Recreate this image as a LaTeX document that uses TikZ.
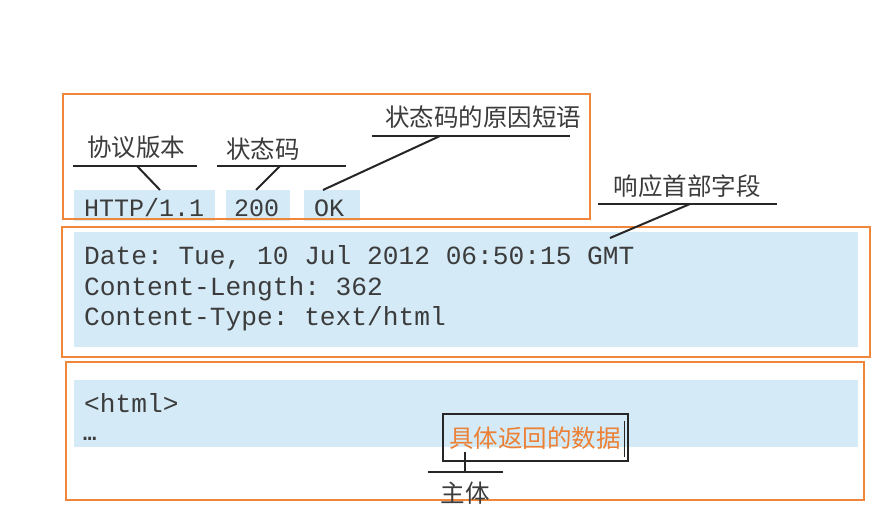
\documentclass[tikz,border=0pt]{standalone}
\usepackage{fontspec}
\setmonofont{Liberation Mono}
\newfontfamily\cjk{Noto Sans CJK SC}
\definecolor{frameor}{RGB}{240,134,58}
\definecolor{hlblue}{RGB}{212,234,247}
\definecolor{txtgray}{RGB}{60,60,60}
\definecolor{txtor}{RGB}{236,128,52}
\tikzset{
  frame/.style={draw=frameor, line width=2.2pt},
  hl/.style={fill=hlblue, draw=none},
  mono/.style={font=\fontsize{26.2}{26.2}\selectfont\ttfamily, text=txtgray, inner sep=0pt, anchor=base west},
  monosm/.style={mono, font=\fontsize{25}{25}\selectfont\ttfamily},
  cjklabel/.style={font=\fontsize{24.5}{24.5}\selectfont\cjk, text=txtgray, inner sep=0pt},
  leader/.style={draw=black!85, line width=2pt},
}
\begin{document}
\begin{tikzpicture}[x=1pt,y=-1pt]
\useasboundingbox[fill=white] (0,0) rectangle (892,510);
% blue highlight areas
\fill[hl] (74,190) rectangle (215,221);
\fill[hl] (226,190) rectangle (290,221);
\fill[hl] (304,190) rectangle (360,221);
\fill[hl] (74,232) rectangle (858,347);
\fill[hl] (74,380) rectangle (858,447);
% frames
\draw[frame] (63,94) rectangle (590,219);
\draw[frame] (62,227) rectangle (870,357);
\draw[frame] (66,362) rectangle (864,500);
% status line
\node[monosm] (ver) at (84,217) {HTTP/1.1};
\node[monosm] (code) at (234,217) {200};
\node[monosm] (ok) at (314,217) {OK};
% header fields
\node[mono] (date) at (84,265) {Date: Tue, 10 Jul 2012 06:50:15 GMT};
\node[mono] (clen) at (84,296) {Content-Length: 362};
\node[mono] (ctype) at (84,326) {Content-Type: text/html};
% body
\node[mono] (html) at (84,413) {<html>};
\node[mono, font=\fontsize{22}{22}\selectfont\ttfamily\bfseries] (dots) at (83,441) {…};
% labels
\node[cjklabel] (lver) at (136,147) {协议版本};
\node[cjklabel] (lcode) at (263,149) {状态码};
\node[cjklabel] (lok) at (483,117) {状态码的原因短语};
\node[cjklabel] (lhead) at (687,186) {响应首部字段};
% underlines
\coordinate (uver1) at (73,166); \coordinate (uver2) at (197,166);
\coordinate (ucode1) at (217,166); \coordinate (ucode2) at (346,166);
\coordinate (uok1) at (372,136); \coordinate (uok2) at (570,136);
\coordinate (uhead1) at (598,204); \coordinate (uhead2) at (777,204);
\draw[leader] (uver1) -- (uver2);
\draw[leader] (ucode1) -- (ucode2);
\draw[leader] (uok1) -- (uok2);
\draw[leader] (uhead1) -- (uhead2);
% leader diagonals
\coordinate (pver) at (160,190);
\coordinate (pcode) at (256,190);
\coordinate (pok) at (323,190);
\coordinate (phead) at (610,238);
\draw[leader] (137,166) -- (pver);
\draw[leader] (280,166) -- (pcode);
\draw[leader] (440,136) -- (pok);
\draw[leader] (690,204) -- (phead);
% body annotation
\node[draw=black!85, line width=1.2pt, minimum width=185pt, minimum height=47pt, inner sep=0pt] (data) at (535.5,437.5) {};
\node[font=\fontsize{24.5}{24.5}\selectfont\cjk, text=txtor, inner sep=0pt] (datatxt) at (535,438) {具体返回的数据};
\draw[black!85, line width=1pt] (624,421) -- (624,457);
\coordinate (ubody1) at (428,472); \coordinate (ubody2) at (503,472);
\draw[leader] (ubody1) -- (ubody2);
\draw[leader] (465,452) -- (465,472);
\node[cjklabel] (lbody) at (465,493) {主体};
\end{tikzpicture}
\end{document}
